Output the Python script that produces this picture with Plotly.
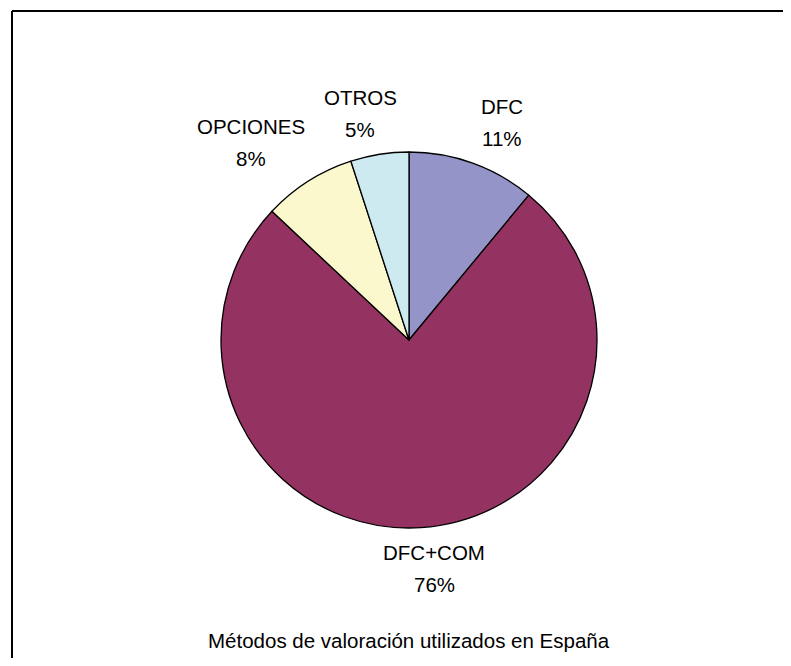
import plotly.graph_objects as go

labels = ["DFC", "DFC+COM", "OPCIONES", "OTROS"]
values = [11, 76, 8, 5]
colors = ["#9494C8", "#943262", "#FAF8CC", "#CDEAF0"]
title_text = "Métodos de valoración utilizados en España"

# page has an 8px body margin; figure coordinates = page coordinates - 8
OFF = 8
W, H = 783, 650
cx, cy, r = 409 - OFF, 340 - OFF, 188

fig = go.Figure(go.Pie(
    labels=labels, values=values, sort=False, direction="clockwise", rotation=0,
    marker=dict(colors=colors, line=dict(color="black", width=1.3)),
    textinfo="none", hoverinfo="label+percent", showlegend=False,
    domain=dict(x=[(cx - r) / W, (cx + r) / W], y=[1 - (cy + r) / H, 1 - (cy - r) / H]),
))

FONT = dict(family="Liberation Sans, Arial", size=20.5, color="black")
# (x center, y center of first line) in page pixels
label_pos = {"DFC": (502, 106), "DFC+COM": (434, 552), "OPCIONES": (251, 126), "OTROS": (360, 97)}
LINE = 32.5
total = sum(values)
for lab, v in zip(labels, values):
    x, y = label_pos[lab]
    x -= OFF
    y -= OFF
    for i, t in enumerate([lab, f"{round(100 * v / total)}%"]):
        fig.add_annotation(x=x / W, y=1 - (y + i * LINE) / H, xref="paper", yref="paper",
                           text=t, showarrow=False, font=FONT, xanchor="center", yanchor="middle")

fig.add_annotation(x=(409 - OFF) / W, y=1 - (640 - OFF) / H, xref="paper", yref="paper", text=title_text,
                   showarrow=False, font=FONT, xanchor="center", yanchor="middle")

# frame (partially visible)
fx, fy = (12 - OFF) / W, 1 - (11 - OFF) / H
fig.add_shape(type="line", xref="paper", yref="paper", x0=fx, x1=1.0, y0=fy, y1=fy,
              line=dict(color="black", width=2))
fig.add_shape(type="line", xref="paper", yref="paper", x0=fx, x1=fx, y0=fy, y1=0,
              line=dict(color="black", width=2))

fig.update_layout(width=W, height=H, margin=dict(l=0, r=0, t=0, b=0),
                  paper_bgcolor="white", plot_bgcolor="white")
fig.write_html("out.html")
